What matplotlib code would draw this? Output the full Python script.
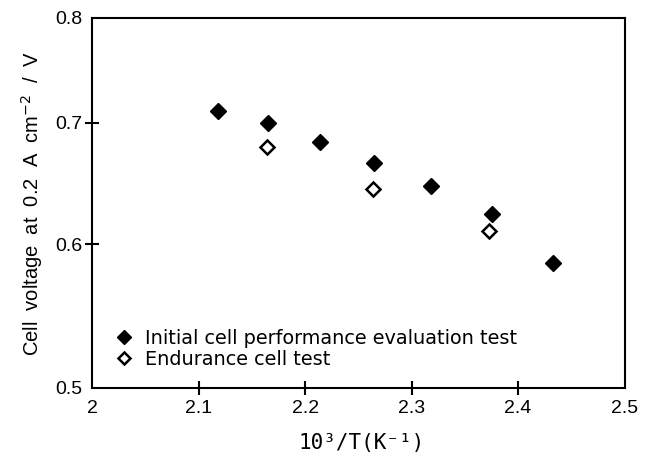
import matplotlib
matplotlib.use("Agg")
import matplotlib.pyplot as plt

# Data
x_initial = [2.118, 2.165, 2.214, 2.265, 2.318, 2.375, 2.433]
v_initial = [0.711, 0.700, 0.683, 0.665, 0.646, 0.624, 0.586]

x_endurance = [2.164, 2.264, 2.373]
v_endurance = [0.679, 0.644, 0.610]

x_ticks = [2.0, 2.1, 2.2, 2.3, 2.4, 2.5]
x_ticklabels = ["2", "2.1", "2.2", "2.3", "2.4", "2.5"]
y_ticks = [0.5, 0.6, 0.7, 0.8]
y_ticklabels = ["0.5", "0.6", "0.7", "0.8"]

plt.rcParams['font.family'] = ['Liberation Sans', 'DejaVu Sans']

fig = plt.figure(figsize=(6.56, 4.57), dpi=100)
ax = fig.add_axes([0.141, 0.151, 0.811, 0.810])

ax.plot(x_initial, v_initial, linestyle='none', marker='D', markersize=8,
        color='black', label='Initial cell performance evaluation test')
ax.plot(x_endurance, v_endurance, linestyle='none', marker='D', markersize=7,
        markerfacecolor='white', markeredgecolor='black', markeredgewidth=1.8,
        label='Endurance cell test')

ax.set_yscale('log')
ax.set_xlim(2.0, 2.5)
ax.set_ylim(0.5, 0.8)

ax.set_xticks(x_ticks)
ax.set_xticklabels(x_ticklabels)
ax.set_yticks(y_ticks)
ax.set_yticklabels(y_ticklabels)
ax.yaxis.set_minor_locator(matplotlib.ticker.NullLocator())

ax.tick_params(direction='inout', length=10, width=1.5, labelsize=14, pad=4)
ax.tick_params(axis='y', pad=2)

# no tick marks at the corners
for axis in (ax.xaxis, ax.yaxis):
    ticks = axis.get_major_ticks()
    for t in (ticks[0], ticks[-1]):
        t.tick1line.set_visible(False)

for s in ax.spines.values():
    s.set_linewidth(1.5)

ax.set_ylabel('Cell  voltage  at  0.2  A  cm$^{-2}$  /  V', fontsize=14.5, labelpad=8)
ax.set_xlabel('10³/T(K⁻¹)', fontsize=15, labelpad=11,
              family=['DejaVu Sans Mono'], x=0.505)

ax.legend(loc='lower left', bbox_to_anchor=(0.032, 0.03), frameon=False,
          prop={'family': 'DejaVu Sans', 'size': 13.9},
          handlelength=0.7, handletextpad=0.75, labelspacing=0.12,
          borderaxespad=0.0, markerscale=0.85)

fig.savefig('out.png', dpi=100)
